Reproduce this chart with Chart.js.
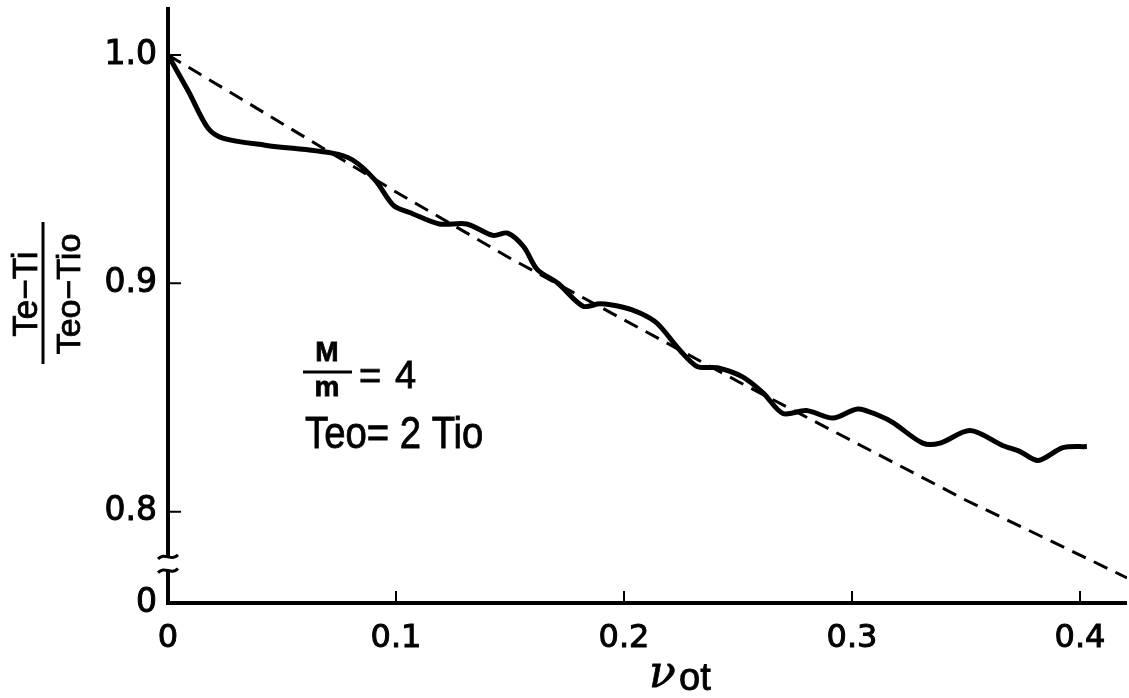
<!DOCTYPE html>
<html>
<head>
<meta charset="utf-8">
<script src="https://cdn.jsdelivr.net/npm/chart.js@4.4.1/dist/chart.umd.min.js"></script>
<style>
  html, body { margin: 0; padding: 0; background: #fff; }
</style>
</head>
<body>
<canvas id="chart" width="1129" height="698"></canvas>
<script>
// solid curve
const nuT = [0, 0.009, 0.0175, 0.024, 0.0425, 0.072, 0.081, 0.091, 0.099, 0.106,
  0.119, 0.131, 0.1425, 0.149, 0.156, 0.162, 0.171, 0.182, 0.1895, 0.1996,
  0.207, 0.2145, 0.2246, 0.232, 0.241, 0.252, 0.261, 0.2697, 0.280, 0.2917,
  0.3025, 0.312, 0.318, 0.331, 0.3386, 0.3518, 0.366, 0.3737, 0.3816, 0.3925, 0.403];
const ratio = [1.0, 0.984, 0.968, 0.9636, 0.9605, 0.957, 0.954, 0.945, 0.934, 0.931,
  0.926, 0.926, 0.921, 0.922, 0.916, 0.906, 0.900, 0.890, 0.891, 0.8895,
  0.887, 0.8825, 0.8706, 0.8636, 0.863, 0.859, 0.852, 0.843, 0.8443, 0.841,
  0.845, 0.842, 0.839, 0.830, 0.830, 0.8355, 0.829, 0.8263, 0.8224, 0.828, 0.8285];

// dashed reference line
const nuTDash = [0, 0.05, 0.1, 0.15, 0.2, 0.25, 0.3, 0.35, 0.4, 0.4206];
const ratioDash = [1.0, 0.970, 0.940, 0.911, 0.884, 0.857, 0.831, 0.805, 0.781, 0.771];

// ticks (bottom y tick stands for the broken-off zero)
const xTicks = [0, 0.1, 0.2, 0.3, 0.4];
const xTickLabels = ["0", "0.1", "0.2", "0.3", "0.4"];
const yTicks = [0.76, 0.8, 0.9, 1.0];
const yTickLabels = ["0", "0.8", "0.9", "1.0"];

const toXY = (xs, ys) => xs.map((v, i) => ({ x: v, y: ys[i] }));

// filled text with a thin outline so it reads as heavy as the print
function drawText(ctx, txt, x, y, font, sx) {
  ctx.save();
  ctx.font = font;
  ctx.translate(x, y);
  ctx.scale(sx || 1, 1);
  ctx.fillText(txt, 0, 0);
  ctx.lineWidth = 0.8;
  ctx.strokeText(txt, 0, 0);
  ctx.restore();
}

// axes with the break, inward ticks, titles and the note
const figPlugin = {
  id: "fig",
  afterDraw(chart) {
    const { ctx, chartArea: a, scales: { x, y } } = chart;
    ctx.save();
    ctx.strokeStyle = "#000";
    ctx.fillStyle = "#000";

    const yb1 = y.getPixelForValue(0.7802);
    const yb2 = y.getPixelForValue(0.7742);
    ctx.lineWidth = 4;
    ctx.lineJoin = "miter";
    ctx.beginPath();
    ctx.moveTo(a.left, a.top);
    ctx.lineTo(a.left, yb1);
    ctx.moveTo(a.left, yb2);
    ctx.lineTo(a.left, a.bottom);
    ctx.lineTo(a.right, a.bottom);
    ctx.stroke();

    ctx.lineWidth = 3;
    [yb1, yb2].forEach(yy => {
      ctx.beginPath();
      ctx.moveTo(a.left - 10, yy + 2);
      ctx.bezierCurveTo(a.left - 3, yy - 5, a.left + 3, yy + 5, a.left + 10, yy - 2);
      ctx.stroke();
    });

    ctx.lineWidth = 2;
    ctx.beginPath();
    [0.8, 0.9, 1.0].forEach(v => {
      const py = y.getPixelForValue(v);
      ctx.moveTo(a.left, py);
      ctx.lineTo(a.left + 13, py);
    });
    [0.1, 0.2, 0.3, 0.4].forEach(v => {
      const px = x.getPixelForValue(v);
      ctx.moveTo(px, a.bottom);
      ctx.lineTo(px, a.bottom - 12);
    });
    ctx.stroke();

    // y title as a rotated fraction
    ctx.save();
    ctx.translate(43, 294);
    ctx.rotate(-Math.PI / 2);
    ctx.textAlign = "center";
    ctx.textBaseline = "alphabetic";
    drawText(ctx, "Te\u2212Ti", 0, -6, "35px 'Liberation Sans', Arial, sans-serif");
    drawText(ctx, "Teo\u2212Tio", 0, 37, "34px 'Liberation Sans', Arial, sans-serif");
    ctx.lineWidth = 3;
    ctx.beginPath();
    ctx.moveTo(-70, 0);
    ctx.lineTo(72, 0);
    ctx.stroke();
    ctx.restore();

    // x title
    ctx.textAlign = "left";
    ctx.textBaseline = "alphabetic";
    drawText(ctx, "\u03bd", 649, 687, "italic 44px 'DejaVu Serif', serif");
    drawText(ctx, "ot", 679, 690, "38px 'Liberation Sans', Arial, sans-serif");

    // note
    ctx.textAlign = "center";
    drawText(ctx, "M", 327, 361, "bold 28px 'Liberation Sans', Arial, sans-serif");
    drawText(ctx, "m", 327, 396, "bold 28px 'Liberation Sans', Arial, sans-serif");
    ctx.lineWidth = 3;
    ctx.beginPath();
    ctx.moveTo(303, 372);
    ctx.lineTo(352, 372);
    ctx.stroke();
    ctx.textAlign = "left";
    drawText(ctx, "=", 359, 389, "38px 'Liberation Sans', Arial, sans-serif");
    drawText(ctx, "4", 395, 388, "38px 'Liberation Sans', Arial, sans-serif");
    drawText(ctx, "Teo= 2 Tio", 305, 448, "44px 'Liberation Sans', Arial, sans-serif", 0.87);

    ctx.restore();
  }
};

new Chart(document.getElementById("chart"), {
  type: "scatter",
  data: {
    datasets: [
      {
        data: toXY(nuTDash, ratioDash),
        showLine: true,
        borderColor: "#000",
        borderWidth: 3,
        borderDash: [15, 9],
        pointRadius: 0,
        tension: 0
      },
      {
        data: toXY(nuT, ratio),
        showLine: true,
        borderColor: "#000",
        borderWidth: 5,
        pointRadius: 0,
        tension: 0.3
      }
    ]
  },
  options: {
    responsive: false,
    animation: false,
    devicePixelRatio: 1,
    layout: { padding: { top: 7, right: 2, left: 0, bottom: 0 } },
    plugins: { legend: { display: false }, tooltip: { enabled: false } },
    scales: {
      x: {
        type: "linear",
        min: 0,
        max: 0.4206,
        afterBuildTicks: s => { s.ticks = xTicks.map(v => ({ value: v })); },
        afterFit: s => { s.height = 95; s.paddingLeft = 0; s.paddingRight = 0; },
        grid: { display: false, drawTicks: false },
        border: { display: false },
        ticks: {
          callback: v => xTickLabels[xTicks.indexOf(v)],
          font: { family: "'DejaVu Sans', sans-serif", size: 32 },
          color: "#000",
          textStrokeColor: "#000",
          textStrokeWidth: 1,
          padding: 16,
          maxRotation: 0,
          autoSkip: false
        }
      },
      y: {
        type: "linear",
        min: 0.76,
        max: 1.021,
        afterBuildTicks: s => { s.ticks = yTicks.map(v => ({ value: v })); },
        afterFit: s => { s.width = 168; s.paddingTop = 0; s.paddingBottom = 0; },
        grid: { display: false, drawTicks: false },
        border: { display: false },
        ticks: {
          callback: v => yTickLabels[yTicks.indexOf(v)],
          font: { family: "'DejaVu Sans', sans-serif", size: 33 },
          color: "#000",
          textStrokeColor: "#000",
          textStrokeWidth: 1,
          padding: 11,
          autoSkip: false
        }
      }
    }
  },
  plugins: [figPlugin]
});
</script>
</body>
</html>
